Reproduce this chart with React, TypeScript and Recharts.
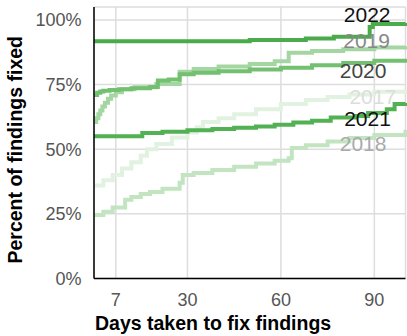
import React from 'react';
import { LineChart, Line, XAxis, YAxis, CartesianGrid, ReferenceDot } from 'recharts';

// ---- data ----
const xTicks = [7, 30, 60, 90];
const yTicks = [0, 25, 50, 75, 100];

const days2017 = [0, 3, 6, 9, 12, 15, 17, 20, 25, 30, 33, 35, 40, 45, 52, 60, 68, 75, 82, 90, 100];
const pct2017 = [36, 38, 40, 42.5, 45, 47.5, 50, 52, 54.5, 56.5, 58.5, 60.5, 62, 63.5, 65.5, 67.5, 69, 70.2, 71.2, 72.2, 73.2];

const days2018 = [0, 3, 6, 10, 12, 15, 18, 22, 27.5, 28.5, 32, 38, 45, 52, 58, 62.5, 63.5, 68, 75, 82, 90, 100];
const pct2018 = [24.6, 25.8, 27.5, 30.5, 31.5, 32.7, 33.5, 34.7, 37, 40, 40.8, 42, 43.2, 44.5, 45.5, 46.5, 50.5, 51.5, 53, 54.3, 55.5, 57.5];

const days2019 = [0, 0.7, 1.4, 2, 2.7, 3.5, 4.5, 5.5, 7, 9, 13, 20, 27.5, 32, 40, 50, 58, 62.5, 70, 80, 90, 100];
const pct2019 = [60.5, 62, 63.5, 65, 66.5, 68, 69.5, 70.8, 72, 73.2, 74, 75.2, 80, 81, 82, 83, 84, 87.3, 88, 88.7, 89.3, 89.8];

const days2020 = [0, 1, 2, 3, 5, 8, 12, 18, 20.5, 24, 27.5, 32, 40, 50, 60, 70, 80, 90, 100];
const pct2020 = [71, 71.8, 72.3, 72.6, 72.9, 73.2, 73.6, 74.1, 76.6, 77, 79, 79.6, 80.2, 80.8, 81.5, 82.5, 83.3, 84.2, 85];

const days2021 = [0, 15.5, 22, 30, 38, 45, 52, 58, 64, 70, 76, 84, 88, 94, 96.5, 100];
const pct2021 = [55, 56.3, 56.8, 57.3, 57.8, 58.3, 58.8, 59.5, 60.3, 61, 62.3, 62.8, 64, 65.5, 67.5, 67.9];

const days2022 = [0, 50, 68, 77, 88.5, 89.5, 100];
const pct2022 = [91.8, 92.2, 92.8, 93.5, 97.3, 98.4, 98.8];

const years = ['2017', '2018', '2019', '2020', '2021', '2022'];
const lineColors = ['#e2f2e0', '#c2e4c0', '#a4d6a2', '#72c070', '#52b152', '#4aab4a'];
const labelColors = ['#dddddd', '#aaaaaa', '#888888', '#444444', '#111111', '#111111'];
// label anchor (right end of text, vertical centre) in data units
const labelDays = [97.0, 93.9, 95.0, 93.9, 95.3, 95.2];
const labelPcts = [70.3, 52.1, 92.1, 80.4, 62.0, 102.1];

const allDays = [days2017, days2018, days2019, days2020, days2021, days2022];
const allPcts = [pct2017, pct2018, pct2019, pct2020, pct2021, pct2022];

const seriesData = allDays.map((ds, i) => ds.map((d, j) => ({ day: d, pct: allPcts[i][j] })));

const FONT = '"Liberation Sans", Arial, Helvetica, sans-serif';

const YTitle = (props: any) => {
  const vb = props.viewBox;
  const x = vb.x + 22;
  const y = vb.y + vb.height / 2 + 7;
  return (
    <text x={x} y={y} transform={`rotate(-90, ${x}, ${y})`} textAnchor="middle" fontFamily={FONT} fontWeight={700} fontSize={19.5} fill="#000">
      Percent of findings fixed
    </text>
  );
};

const XTitle = (props: any) => {
  const vb = props.viewBox;
  return (
    <text x={vb.x + 1} y={vb.y + 51} textAnchor="start" fontFamily={FONT} fontWeight={700} fontSize={19.5} fill="#000">
      Days taken to fix findings
    </text>
  );
};

const makeTag = (text: string, color: string) => (props: any) => {
  const vb = props.viewBox;
  return (
    <text x={vb.x} y={vb.y} textAnchor="end" dominantBaseline="central" fontFamily={FONT} fontSize={21} fill={color}>
      {text}
    </text>
  );
};

export default function App() {
  return (
    <div style={{ position: 'absolute', left: 0, top: 0, width: 407, height: 336, background: '#fff' }}>
      <LineChart width={407} height={336} margin={{ top: 7, right: 1.5, left: 0, bottom: 0 }}>
        <CartesianGrid stroke="#dddddd" strokeWidth={1.5} />
        <XAxis
          type="number"
          dataKey="day"
          domain={[0, 100]}
          ticks={xTicks}
          height={57.5}
          tickLine={false}
          tickMargin={9}
          axisLine={{ stroke: '#000', strokeWidth: 1.5 }}
          tick={{ fontFamily: FONT, fontSize: 18, fill: '#555' }}
          allowDuplicatedCategory={false}
          label={{ content: XTitle }}
        />
        <YAxis
          type="number"
          domain={[0, 105]}
          ticks={yTicks}
          width={94}
          tickLine={false}
          tickMargin={6.5}
          axisLine={{ stroke: '#000', strokeWidth: 1.5 }}
          tickFormatter={(v: number) => `${v}%`}
          tick={{ fontFamily: FONT, fontSize: 18, fill: '#555' }}
          label={{ content: YTitle }}
        />
        {seriesData.map((d, i) => (
          <Line
            key={years[i]}
            data={d}
            dataKey="pct"
            type="stepAfter"
            stroke={lineColors[i]}
            strokeWidth={4}
            dot={false}
            activeDot={false}
            isAnimationActive={false}
          />
        ))}
        {years.map((y, i) => (
          <ReferenceDot
            key={'tag' + y}
            x={labelDays[i]}
            y={labelPcts[i]}
            r={0}
            fill="none"
            stroke="none"
            label={makeTag(y, labelColors[i])}
          />
        ))}
      </LineChart>
    </div>
  );
}
